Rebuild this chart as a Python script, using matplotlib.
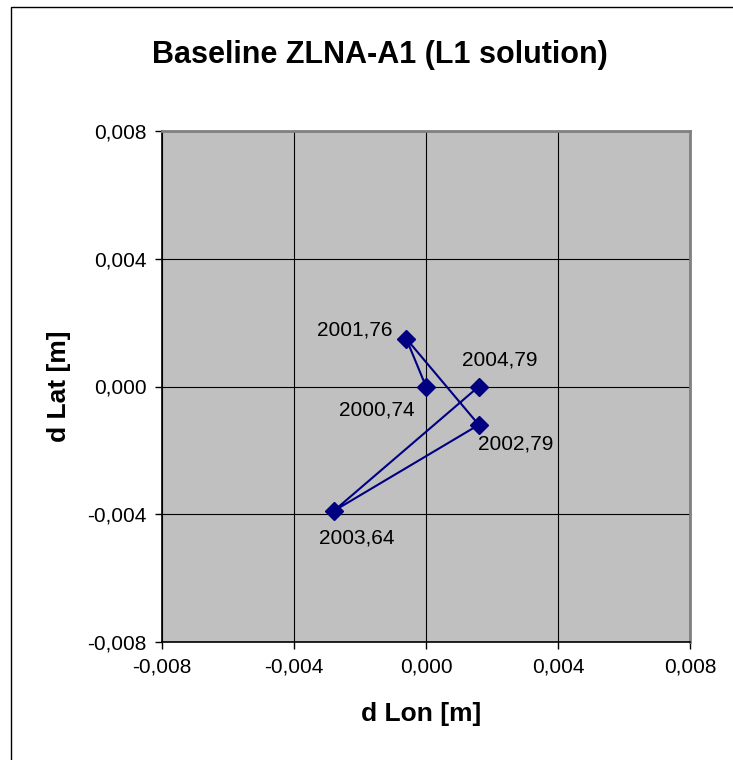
import matplotlib.pyplot as plt
from matplotlib.ticker import FixedLocator, FuncFormatter
from matplotlib.patches import Rectangle

plt.rcParams['font.family'] = ['Liberation Sans', 'DejaVu Sans']

# epochs and offsets of the baseline solution
epochs = ['2000,74', '2001,76', '2002,79', '2003,64', '2004,79']
d_lon = [0.0, -0.0006, 0.0016, -0.0028, 0.0016]
d_lat = [0.0, 0.0015, -0.0012, -0.0039, 0.0]
ticks = [-0.008, -0.004, 0.0, 0.004, 0.008]

# label offsets in pixels (from the marker)
offs = [(-49, -24), (-51, 9), (37, -19), (23, -27), (21, 26)]

fig = plt.figure(figsize=(7.33, 7.60), dpi=100)
ax = fig.add_axes([162/733, 1 - 642/760, 528/733, 511/760])
ax.set_facecolor('#C0C0C0')

# outer chart frame
fig.patches.append(Rectangle((11/733, -0.05), 1.2, 1 - 7/760 + 0.05,
                             transform=fig.transFigure, fill=False,
                             edgecolor='black', linewidth=1.0))

ax.set_xlim(-0.008, 0.008)
ax.set_ylim(-0.008, 0.008)
ax.xaxis.set_major_locator(FixedLocator(ticks))
ax.yaxis.set_major_locator(FixedLocator(ticks))
fmt = FuncFormatter(lambda v, p: ('%.3f' % v).replace('.', ',').replace('-0,000', '0,000'))
ax.xaxis.set_major_formatter(fmt)
ax.yaxis.set_major_formatter(fmt)
ax.grid(True, color='black', linewidth=0.8)
ax.set_axisbelow(True)
ax.tick_params(direction='out', length=5, width=1, labelsize=15, pad=6)

for s in ['top', 'right']:
    ax.spines[s].set_color('#808080')
    ax.spines[s].set_linewidth(2)
for s in ['left', 'bottom']:
    ax.spines[s].set_color('black')
    ax.spines[s].set_linewidth(1.2)

ax.plot(d_lon, d_lat, color='#000080', linewidth=1.5, marker='D',
        markersize=9, markerfacecolor='#000080', markeredgecolor='#000080')

for lab, x, y, o in zip(epochs, d_lon, d_lat, offs):
    ax.annotate(lab, (x, y), xytext=o, textcoords='offset pixels',
                ha='center', va='center', fontsize=15)

fig.text(380/733, 1 - 55/760, 'Baseline ZLNA-A1 (L1 solution)',
         ha='center', va='center', fontsize=22, fontweight='bold')
fig.text(421/733, 1 - 714/760, 'd Lon [m]', ha='center', va='center',
         fontsize=19, fontweight='bold')
fig.text(59/733, 1 - 386/760, 'd Lat [m]', ha='center', va='center',
         fontsize=19, fontweight='bold', rotation=90)

fig.savefig('out.png', dpi=100)
